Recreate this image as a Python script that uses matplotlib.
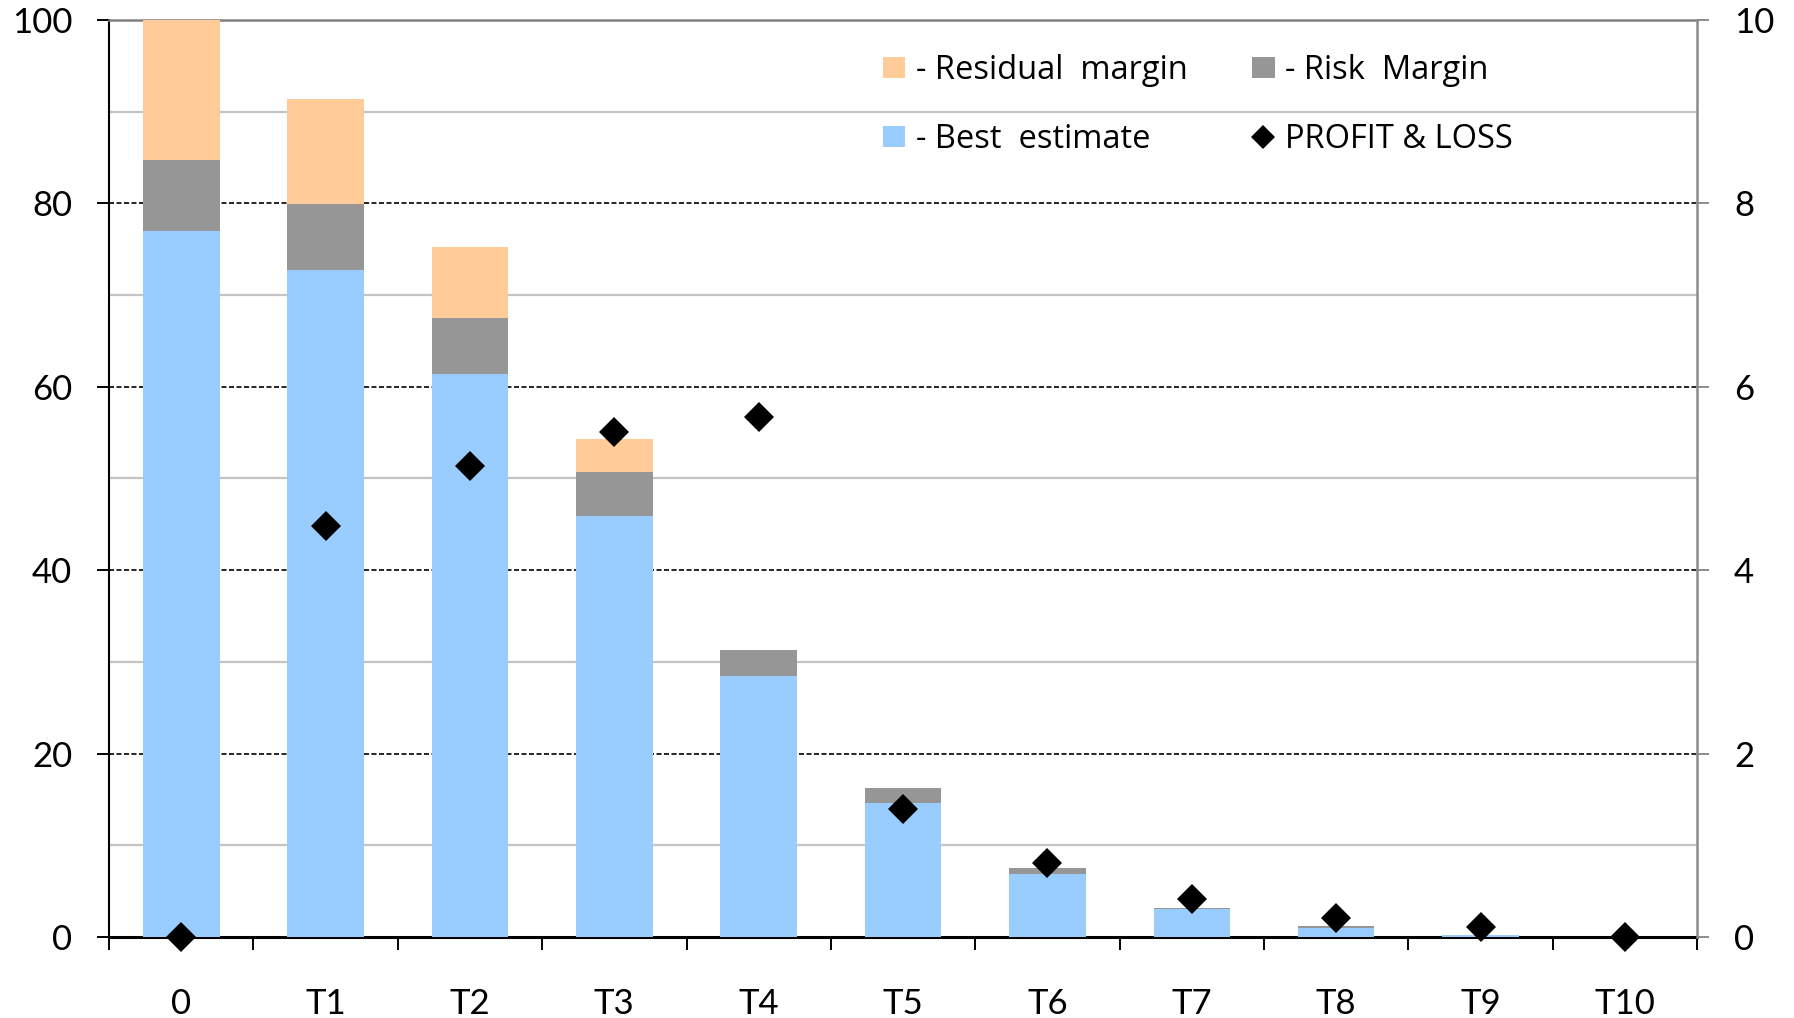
import matplotlib
matplotlib.use("Agg")
import matplotlib.pyplot as plt
from matplotlib.patches import Patch
from matplotlib.lines import Line2D

plt.rcParams['font.family'] = ['Lato', 'DejaVu Sans']

# categories and values
categories = ['0', 'T1', 'T2', 'T3', 'T4', 'T5', 'T6', 'T7', 'T8', 'T9', 'T10']
best_estimate = [77.0, 72.7, 61.4, 45.9, 28.5, 14.6, 6.9, 3.0, 1.0, 0.2, 0.0]
risk_margin = [7.7, 7.2, 6.1, 4.8, 2.8, 1.6, 0.6, 0.2, 0.2, 0.0, 0.0]
residual_margin = [15.3, 11.5, 7.7, 3.6, 0.0, 0.0, 0.0, 0.0, 0.0, 0.0, 0.0]
profit_loss = [0.0, 4.48, 5.14, 5.51, 5.67, 1.40, 0.81, 0.41, 0.21, 0.11, 0.0]

left_ticks = [0, 20, 40, 60, 80, 100]
left_minor = [10, 30, 50, 70, 90]
right_ticks = [0, 2, 4, 6, 8, 10]

c_best = '#99CCFF'
c_risk = '#969696'
c_resid = '#FFCC99'

fig = plt.figure(figsize=(17.94, 10.18), dpi=100)
ax = fig.add_axes([0.0608, 0.0796, 0.8852, 0.9008])

x = [i + 0.5 for i in range(len(categories))]
w = 0.53

bottom2 = [b + r for b, r in zip(best_estimate, risk_margin)]
ax.bar(x, best_estimate, w, color=c_best, zorder=3)
ax.bar(x, risk_margin, w, bottom=best_estimate, color=c_risk, zorder=3)
ax.bar(x, residual_margin, w, bottom=bottom2, color=c_resid, zorder=3)

ax.set_xlim(0, len(categories))
ax.set_ylim(0, 100)
ax.set_yticks(left_ticks)
ax.set_yticks(left_minor, minor=True)
ax.tick_params(axis='y', which='major', direction='out', length=8.6, width=1.4,
               color='black', labelsize=25, pad=18)
ax.tick_params(axis='y', which='minor', length=0)
ax.grid(axis='y', which='major', color='black', linestyle=(0, (3, 1.5)), linewidth=1.2, zorder=1)
ax.grid(axis='y', which='minor', color='#C4C4C4', linestyle='-', linewidth=1.6, zorder=1)
ax.set_axisbelow(True)

# x ticks between categories, labels at the centres
ax.set_xticks(range(len(categories) + 1))
ax.set_xticklabels([])
ax.set_xticks(x, minor=True)
ax.set_xticklabels(categories, minor=True)
ax.tick_params(axis='x', which='major', direction='out', length=9, width=1.4, color='black')
ax.tick_params(axis='x', which='minor', length=0, labelsize=25, pad=37)

ax.spines['left'].set_color('black')
ax.spines['left'].set_linewidth(1.5)
ax.spines['bottom'].set_color('black')
ax.spines['bottom'].set_linewidth(2.2)
ax.spines['top'].set_color('#808080')
ax.spines['top'].set_linewidth(1.8)
ax.spines['right'].set_visible(False)

ax2 = ax.twinx()
ax2.set_ylim(0, 10)
ax2.set_yticks(right_ticks)
ax2.tick_params(axis='y', direction='out', length=8.6, width=1.4, color='#8C8C8C',
                labelsize=25, pad=18)
for s in ['left', 'top', 'bottom']:
    ax2.spines[s].set_visible(False)
ax2.spines['right'].set_color('#8C8C8C')
ax2.spines['right'].set_linewidth(1.8)

ax2.plot(x, profit_loss, linestyle='none', marker='D', markersize=15.5,
         color='black', markeredgewidth=0, clip_on=False, zorder=5)

handles = [
    Patch(facecolor=c_resid, edgecolor='none'),
    Patch(facecolor=c_best, edgecolor='none'),
    Patch(facecolor=c_risk, edgecolor='none'),
    Line2D([], [], linestyle='none', marker='D', markersize=12, color='black', markeredgewidth=0),
]
labels = ['- Residual  margin', '- Best  estimate', '- Risk  Margin', 'PROFIT & LOSS']
ax2.legend(handles, labels, ncol=2, frameon=False, loc='upper left',
           bbox_to_anchor=(0.492, 0.947), bbox_transform=fig.transFigure,
           borderpad=0, borderaxespad=0, handlelength=0.7,
           handleheight=0.64, handletextpad=0.33, labelspacing=1.1, columnspacing=1.95,
           prop={'family': ['Open Sans', 'DejaVu Sans'], 'size': 23.5})

fig.savefig('out.png', dpi=100)
